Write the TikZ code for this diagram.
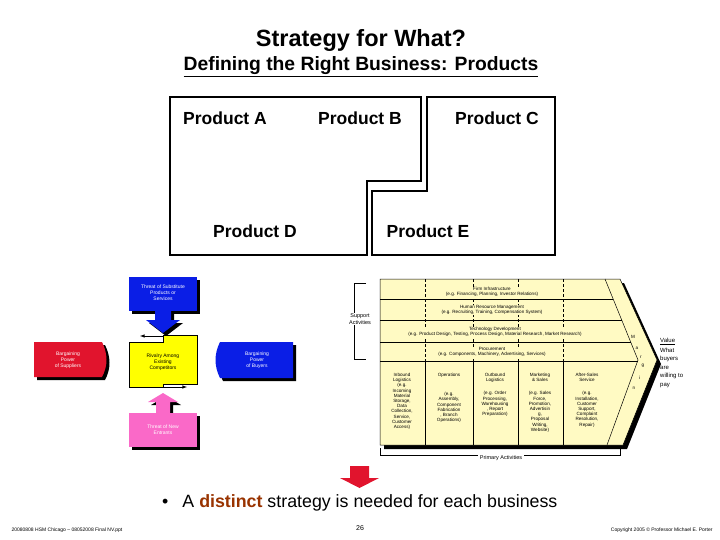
\documentclass[tikz,border=0pt]{standalone}
\usepackage{fontspec}
\setmainfont{Liberation Sans}
\begin{document}
\begin{tikzpicture}[x=1pt,y=-1pt,
  tiny/.style={font=\fontsize{4.6}{5.2}\selectfont,align=center,inner sep=0pt},
  wtiny/.style={tiny,text=white,font=\fontsize{5}{5.8}\selectfont},
  prod/.style={font=\fontsize{17.5}{19}\selectfont\bfseries},
  vcline/.style={line width=0.5pt},
  ]
\useasboundingbox (0,0) rectangle (720,540);
\definecolor{fblue}{RGB}{10,30,230}
\definecolor{fred}{RGB}{225,20,45}
\definecolor{fyel}{RGB}{255,255,0}
\definecolor{fpink}{RGB}{250,105,200}
\definecolor{vc}{RGB}{255,250,195}
\definecolor{brn}{RGB}{153,51,0}
% titles
\node (t1) at (361,40) {\fontsize{23.5}{25}\selectfont\bfseries Strategy for What?};
\node (t2) at (361,67) {\fontsize{19.3}{21}\selectfont\bfseries\underline{Defining the Right Business: Products}};
% product boxes
\draw[line width=1.3pt] (170,97)--(421,97)--(421,181)--(367,181)--(367,255)--(170,255)--cycle;
\draw[line width=1.3pt] (427,97)--(555,97)--(555,255)--(372,255)--(372,191)--(427,191)--cycle;
\node[prod] (pa) at (225,118) {Product A};
\node[prod] (pb) at (360,118) {Product B};
\node[prod] (pc) at (497,118) {Product C};
\node[prod] (pd) at (255,231) {Product D};
\node[prod] (pe) at (428,231) {Product E};
% five forces
\fill[black] (132,280) rectangle (200,314);
\fill[black] (158,314)--(158,323)--(149,323)--(166,336)--(183,323)--(174,323)--(174,314)--cycle;
\fill[fblue] (129,277) rectangle (197,311);
\fill[fblue] (155,311)--(155,320)--(146,320)--(163,333)--(180,320)--(171,320)--(171,311)--cycle;
\node[wtiny] (sub) at (163,293) {Threat of Substitute\\Products or\\Services};
\fill[fyel,draw=black,line width=0.5pt] (129,342)--(163,342)--(163,335)--(197,335)--(197,384)--(163,384)--(163,387)--(129,387)--cycle;
\node[tiny,font=\fontsize{5}{5.8}\selectfont] (riv) at (163,362) {Rivalry Among\\Existing\\Competitors};
\coordinate (ra1) at (163,336); \coordinate (ra2) at (140,336);
\coordinate (rb1) at (163,387); \coordinate (rb2) at (187,387);
\draw[-latex,line width=0.6pt] (ra1)--(ra2);
\draw[-latex,line width=0.6pt] (rb1)--(rb2);
\fill[black] (132,416) rectangle (200,450);
\fill[black] (159,416)--(159,405)--(151,405)--(166,396)--(181,405)--(173,405)--(173,416)--cycle;
\fill[fpink] (129,413) rectangle (197,447);
\fill[fpink] (156,413)--(156,402)--(148,402)--(163,393)--(178,402)--(170,402)--(170,413)--cycle;
\node[wtiny] (ne) at (163,430) {Threat of New\\Entrants};
\fill[black] (223,345)--(296,345)--(296,381)--(223,381) .. controls (217,369) and (217,357) .. (223,345);
\fill[fblue] (220,342)--(293,342)--(293,378)--(220,378) .. controls (214,366) and (214,354) .. (220,342);
\node[wtiny] (buy) at (257,360) {Bargaining\\Power\\of Buyers};
\fill[black] (37,345)--(105,345) .. controls (111,357) and (111,369) .. (105,380)--(37,380)--cycle;
\fill[fred] (34,342)--(102,342) .. controls (108,354) and (108,366) .. (102,377)--(34,377)--cycle;
\node[wtiny] (sup) at (68,360) {Bargaining\\Power\\of Suppliers};
% value chain
\fill[black] (384,283)--(624,283)--(661,364)--(627,449)--(384,449)--cycle;
\fill[vc] (380,279)--(620,279)--(657,360)--(623,445)--(380,445)--cycle;
\draw[vcline] (380,279)--(620,279)--(657,360)--(623,445)--(380,445)--cycle;
\draw[vcline] (605,279)--(638,360)--(607,445);
\foreach \y in {299,320,342}{
  \pgfmathsetmacro{\xx}{605+33*(\y-279)/81}
  \draw[vcline] (380,\y)--(\xx,\y);}
\draw[line width=1pt] (380,361)--(638,361);
\foreach \x in {425,473,518,563}{
  \draw[vcline,dash pattern=on 3pt off 2pt,line width=0.7pt] (\x,279)--(\x,361);
  \draw[vcline] (\x,361)--(\x,445);}
\node[tiny,fill=vc] (fi) at (492,292) {Firm Infrastructure\\(e.g. Financing, Planning, Investor Relations)};
\node[tiny,fill=vc] (hr) at (492,310) {Human Resource Management\\(e.g. Recruiting, Training, Compensation System)};
\node[tiny,fill=vc] (td) at (495,332) {Technology Development\\(e.g. Product Design, Testing, Process Design, Material Research, Market Research)};
\node[tiny,fill=vc] (pr) at (492,352) {Procurement\\(e.g. Components, Machinery, Advertising, Services)};
\node[tiny,anchor=north] (c1) at (402,373) {Inbound\\Logistics\\(e.g.\\Incoming\\Material\\Storage,\\Data\\Collection,\\Service,\\Customer\\Access)};
\node[tiny,anchor=north] (c2) at (449,373) {Operations\\[14pt](e.g.\\Assembly,\\Component\\Fabrication\\, Branch\\Operations)};
\node[tiny,anchor=north] (c3) at (495,373) {Outbound\\Logistics\\[8pt](e.g. Order\\Processing,\\Warehousing\\, Report\\Preparation)};
\node[tiny,anchor=north] (c4) at (540,373) {Marketing\\\& Sales\\[8pt](e.g. Sales\\Force,\\Promotion,\\Advertisin\\g,\\Proposal\\Writing,\\Website)};
\node[tiny,anchor=north] (c5) at (587,373) {After-Sales\\Service\\[8pt](e.g.\\Installation,\\Customer\\Support,\\Complaint\\Resolution,\\Repair)};
\foreach \l/\x/\y in {M/633/337,a/637/348,r/641/357,g/643/366,i/640/378,n/634/388}
  \node[tiny] at (\x,\y) {\l};
\draw[line width=0.8pt] (366,283)--(354,283)--(354,359)--(366,359);
\node[tiny,fill=white,inner sep=1pt,font=\fontsize{5.5}{6.3}\selectfont] (supp) at (360,319) {Support\\Activities};
\draw[line width=0.8pt] (380,448)--(380,455)--(620,455)--(620,448);
\node[tiny,fill=white,inner sep=1.5pt,font=\fontsize{5.5}{6.3}\selectfont] (prim) at (501,458) {Primary Activities};
\node[tiny,anchor=north west,align=left,font=\fontsize{6}{8.5}\selectfont] (val) at (660,338) {\underline{Value}\\[1pt]What\\buyers\\are\\willing to\\pay};
% red arrow
\fill[fred] (350,466)--(369,466)--(369,478)--(379,478)--(359.5,488)--(340,478)--(350,478)--cycle;
\node[anchor=west,inner sep=0pt] (bul) at (162,503) {\fontsize{17.8}{19}\selectfont •\hspace{14pt}A {\color{brn}\bfseries distinct} strategy is needed for each business};
% footer
\node[anchor=west,font=\fontsize{5}{6}\selectfont] (f1) at (8,530) {20080808 HSM Chicago – 08052008 Final NV.ppt};
\node[font=\fontsize{7}{8}\selectfont] (f2) at (360,528) {26};
\node[anchor=east,font=\fontsize{5}{6}\selectfont] (f3) at (716,530) {Copyright 2005 © Professor Michael E. Porter};
\end{tikzpicture}
\end{document}
